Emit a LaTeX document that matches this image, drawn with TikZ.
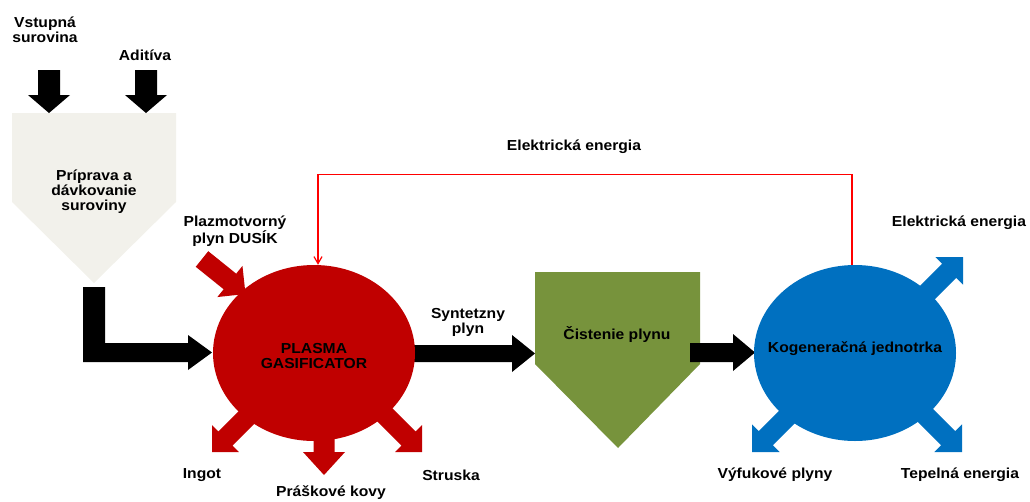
\documentclass[tikz,border=0pt]{standalone}
\usepackage{fontspec}
\setmainfont{Liberation Sans}[FakeStretch=1.08]
\usetikzlibrary{calc,shapes.geometric,arrows.meta}
\definecolor{gasred}{HTML}{C00000}
\definecolor{kogblue}{HTML}{0070C0}
\definecolor{cleangreen}{HTML}{77933C}
\definecolor{prepbeige}{HTML}{F2F1EB}
\definecolor{linered}{HTML}{FF0000}
% block arrow: #1 colour, #2 start, #3 tip, #4 shaft half width, #5 head half width, #6 head length
\newcommand{\barr}[6]{%
  \coordinate (ba-h) at ($(#3)!#6!(#2)$);
  \fill[#1] ($(#2)!#4!90:(#3)$) -- ($(ba-h)!#4!90:(#3)$) -- ($(ba-h)!#5!90:(#3)$) -- (#3)
    -- ($(ba-h)!#5!-90:(#3)$) -- ($(ba-h)!#4!-90:(#3)$) -- ($(#2)!#4!-90:(#3)$) -- cycle;}
\begin{document}
\begin{tikzpicture}[x=1pt,y=-1pt,
  lbl/.style={font=\fontsize{14.5}{15}\selectfont\bfseries, align=center, inner sep=0pt},
  blob/.style={ellipse, minimum width=202pt, minimum height=176pt, inner sep=0pt}]
\useasboundingbox (0,0) rectangle (1030,501);

% --- preparation hopper
\fill[prepbeige] (12,113) -- (176,113) -- (176,202) -- (94,283) -- (12,202) -- cycle;
\coordinate (prep-in1) at (49,113);
\coordinate (prep-in2) at (146,113);
\coordinate (src1) at (49,70);
\coordinate (src2) at (146,70);

% --- gas cleaning
\fill[cleangreen] (535,272) -- (700,272) -- (700,364) -- (618,448) -- (535,364) -- cycle;
\coordinate (clean-w) at (535,353.5);
\coordinate (clean-e) at (690,352.5);

% --- coordinates for block arrows
\coordinate (gas-c) at (314,353);
\coordinate (kog-c) at (855,353);
\coordinate (gas-e) at (400,353.5);
\coordinate (gas-w) at (212,352.5);
\coordinate (kog-w) at (755,352.5);
\coordinate (n2s) at (202,259);
\coordinate (n2t) at (245.5,294);
\coordinate (ingS) at (270,394);  \coordinate (ingT) at (212,452);
\coordinate (prS) at (324,400);   \coordinate (prT) at (324,475);
\coordinate (strS) at (364,394);  \coordinate (strT) at (422,452);
\coordinate (elS) at (905,315);   \coordinate (elT) at (963,257);
\coordinate (vyS) at (810,394);   \coordinate (vyT) at (752,452);
\coordinate (teS) at (904,394);   \coordinate (teT) at (962,452);

% black inputs
\barr{black}{src1}{prep-in1}{11pt}{21pt}{18pt}
\barr{black}{src2}{prep-in2}{11pt}{21pt}{18pt}
% L-shaped feed arrow
\fill[black] (83,287) -- (105,287) -- (105,343) -- (188,343) -- (188,335) -- (gas-w)
  -- (188,370) -- (188,362) -- (83,362) -- cycle;
% syngas and clean gas
\barr{black}{gas-e}{clean-w}{8.5pt}{18.5pt}{23pt}
\barr{black}{clean-e}{kog-w}{9.5pt}{18.5pt}{22pt}

% red arrows
\barr{gasred}{n2s}{n2t}{10pt}{20pt}{20pt}
\barr{gasred}{ingS}{ingT}{10pt}{19pt}{19pt}
\barr{gasred}{prS}{prT}{10.5pt}{21pt}{23pt}
\barr{gasred}{strS}{strT}{10pt}{19pt}{19pt}
% blue arrows
\barr{kogblue}{elS}{elT}{10pt}{19.5pt}{19.5pt}
\barr{kogblue}{vyS}{vyT}{10pt}{19.5pt}{19.5pt}
\barr{kogblue}{teS}{teT}{10pt}{19.5pt}{19.5pt}

% ellipses
\node[blob, fill=gasred] (gas) at (gas-c) {};
\node[blob, fill=kogblue] (kog) at (kog-c) {};

% electric energy feedback line
\draw[linered, line width=1.2pt, -{Straight Barb[length=7pt,width=8pt]}]
  ([xshift=-3pt]kog.north) -- ++(0,-90) -| ([xshift=4pt]gas.north);

% labels
\node[lbl] (t-vst) at (45,30) {Vstupná\\surovina};
\node[lbl] (t-adi) at (145,55) {Aditíva};
\node[lbl] (t-prep) at (94,192) {Príprava a\\dávkovanie\\suroviny};
\node[lbl] (t-el1) at (574,147) {Elektrická energia};
\node[lbl] (t-plaz) at (235,231) {Plazmotvorný\\plyn DUSÍK};
\node[lbl] (t-gas) at (314,356) {PLASMA\\GASIFICATOR};
\node[lbl] (t-syn) at (468,322) {Syntetzny\\plyn};
\node[lbl] (t-cist) at (617,335) {Čistenie plynu};
\node[lbl] (t-kog) at (855,349) {Kogeneračná jednotrka};
\node[lbl] (t-el2) at (959,223) {Elektrická energia};
\node[lbl] (t-ing) at (202,475) {Ingot};
\node[lbl] (t-pras) at (331,493) {Práškové kovy};
\node[lbl] (t-str) at (451,475) {Struska};
\node[lbl] (t-vyf) at (775,475) {Výfukové plyny};
\node[lbl] (t-tep) at (960,475) {Tepelná energia};
\end{tikzpicture}
\end{document}
